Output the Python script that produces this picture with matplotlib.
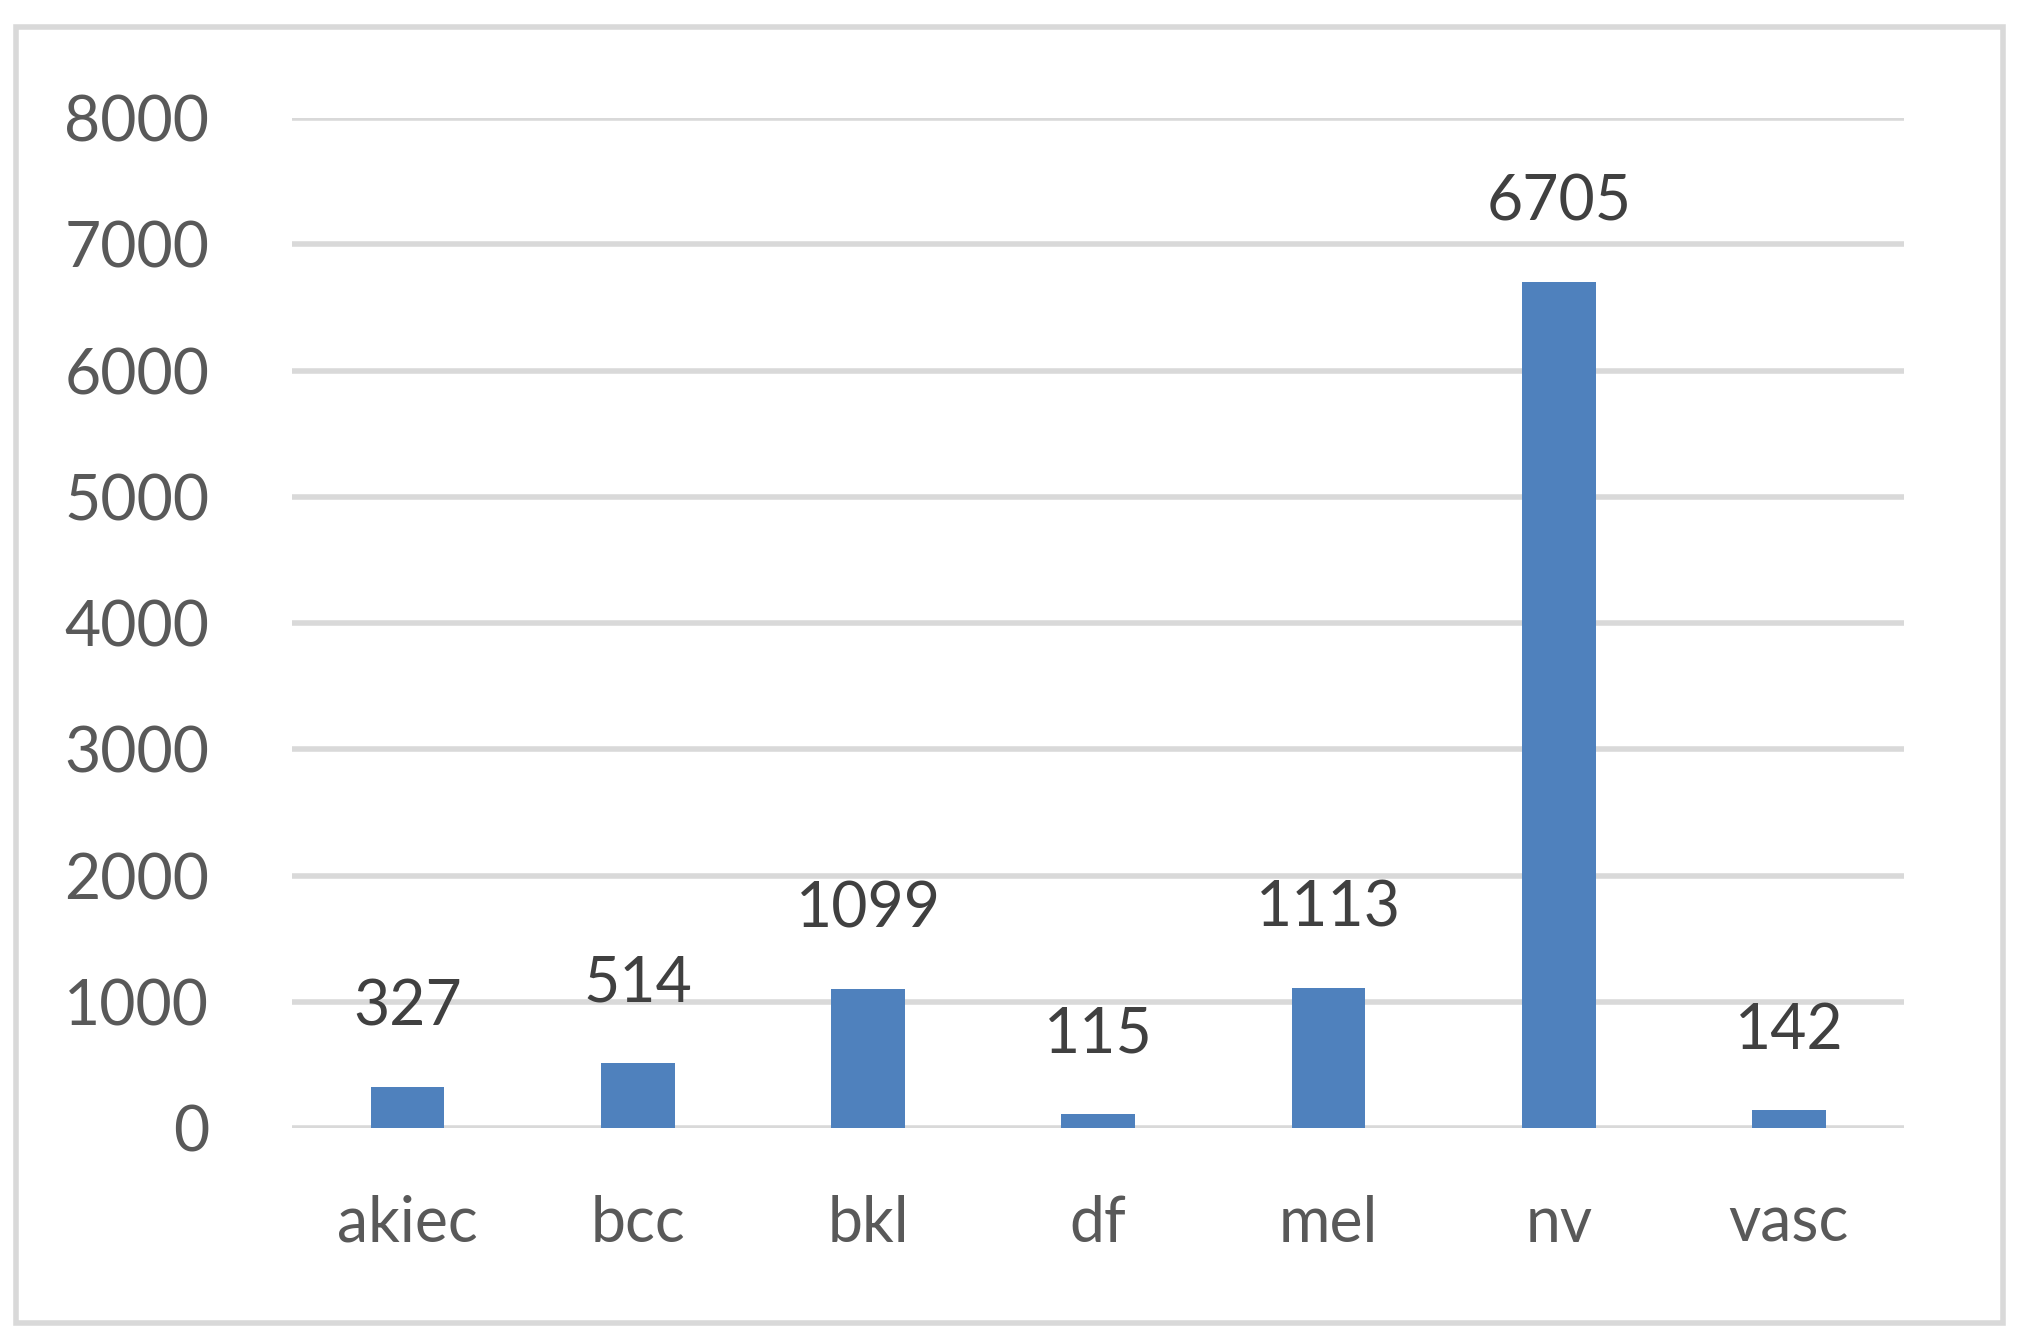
import matplotlib.pyplot as plt
from matplotlib.patches import Rectangle

categories = ['akiec', 'bcc', 'bkl', 'df', 'mel', 'nv', 'vasc']
counts = [327, 514, 1099, 115, 1113, 6705, 142]
yticks = [0, 1000, 2000, 3000, 4000, 5000, 6000, 7000, 8000]

plt.rcParams['font.family'] = ['Lato', 'DejaVu Sans']

fig = plt.figure(figsize=(20.17, 13.43), dpi=100)
ax = fig.add_axes([0.145, 0.160, 0.799, 0.752])

x = range(len(categories))
ax.bar(x, counts, width=0.32, color='#4F81BD', zorder=3)
for xi, v in zip(x, counts):
    ax.text(xi, v + 400, str(v), ha='center', va='bottom', fontsize=45, color='#404040')

ax.set_ylim(0, 8000)
ax.set_xlim(-0.5, len(categories) - 0.5)
ax.set_yticks(yticks)
ax.set_xticks(list(x))
ax.set_xticklabels(categories)
ax.yaxis.grid(True, color='#D9D9D9', linewidth=4, zorder=0)
ax.tick_params(axis='both', length=0, labelsize=45, labelcolor='#595959')
ax.tick_params(axis='x', pad=48)
ax.tick_params(axis='y', pad=60)
for s in ax.spines.values():
    s.set_visible(False)

fig.patches.append(Rectangle((0.008, 0.015), 0.985, 0.965, transform=fig.transFigure,
                             fill=False, edgecolor='#D9D9D9', linewidth=4))

fig.savefig('out.png', dpi=100)
